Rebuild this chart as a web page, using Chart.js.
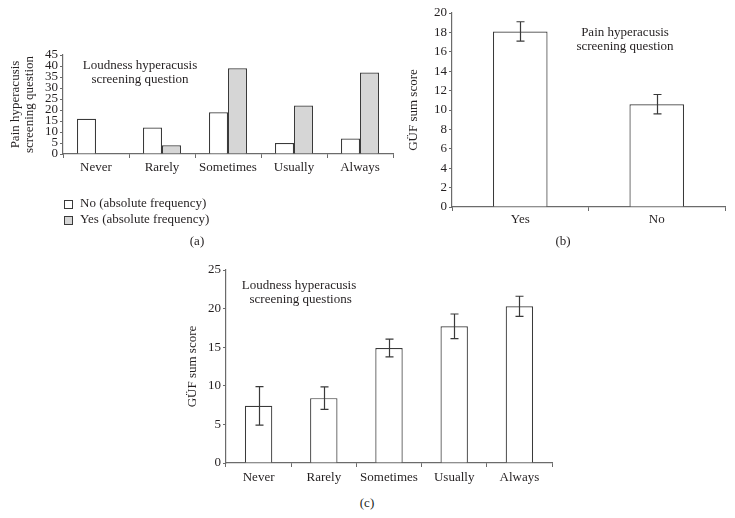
<!DOCTYPE html>
<html>
<head>
<meta charset="utf-8">
<script src="https://cdn.jsdelivr.net/npm/chart.js@4.4.0/dist/chart.umd.min.js"></script>
<style>
  body { margin:0; width:735px; height:518px; background:#fff; position:relative; overflow:hidden;
         font-family:'Liberation Serif', serif; color:#231f20; }
  canvas { position:absolute; }
  .note { position:absolute; font-size:13px; line-height:14px; text-align:center; white-space:nowrap; }
  .tag { position:absolute; font-size:13px; width:24px; text-align:center; }
</style>
</head>
<body>
<canvas id="chartA" width="400" height="200" style="left:0;top:40px"></canvas>
<canvas id="chartB" width="335" height="232" style="left:400px;top:0"></canvas>
<canvas id="chartC" width="385" height="235" style="left:180px;top:260px"></canvas>

<div class="note" style="left:60px;top:58px;width:160px">Loudness hyperacusis<br>screening question</div>
<div class="note" style="left:545px;top:25px;width:160px">Pain hyperacusis<br>screening question</div>
<div class="note" style="left:219px;top:278px;width:160px">Loudness hyperacusis<br>&nbsp;screening questions</div>

<div class="tag" style="left:185px;top:233px">(a)</div>
<div class="tag" style="left:551px;top:233px">(b)</div>
<div class="tag" style="left:355px;top:495px">(c)</div>

<script>
// (a) frecuencias absolutas
const freqLabels = ['Never', 'Rarely', 'Sometimes', 'Usually', 'Always'];
const freqNo = [16, 12, 19, 5, 7];
const freqYes = [0, 4, 39, 22, 37];
const freqTicks = [0, 5, 10, 15, 20, 25, 30, 35, 40, 45];

// (b) pain question
const painLabels = ['Yes', 'No'];
const painMeans = [18.1, 10.6];
const painErrors = [1.0, 1.0];

// (c) loudness questions
const loudLabels = ['Never', 'Rarely', 'Sometimes', 'Usually', 'Always'];
const loudMeans = [7.4, 8.4, 14.9, 17.7, 20.3];
const loudErrors = [2.5, 1.45, 1.15, 1.6, 1.3];

const FONT = "'Liberation Serif', serif";
const TXT = '#231f20';
const AXIS = '#6b6b6b';
const EDGE = '#3a3a3a';

Chart.defaults.font.family = FONT;
Chart.defaults.font.size = 13;
Chart.defaults.color = TXT;
Chart.defaults.animation = false;

// barras de error usando la escala y del grafico
const errorBars = {
    id: 'errorBars',
    afterDatasetsDraw(chart, args, opts) {
        const errs = opts.errors;
        if (!errs) return;
        const meta = chart.getDatasetMeta(0);
        const vals = chart.data.datasets[0].data;
        const y = chart.scales.y;
        const ctx = chart.ctx;
        ctx.save();
        ctx.strokeStyle = EDGE;
        ctx.lineWidth = 1.2;
        meta.data.forEach((bar, i) => {
            const top = y.getPixelForValue(vals[i] + errs[i]);
            const bot = y.getPixelForValue(vals[i] - errs[i]);
            const x = Math.round(bar.x) + 0.5;
            ctx.beginPath();
            ctx.moveTo(x, top); ctx.lineTo(x, bot);
            ctx.moveTo(x - opts.cap, top); ctx.lineTo(x + opts.cap, top);
            ctx.moveTo(x - opts.cap, bot); ctx.lineTo(x + opts.cap, bot);
            ctx.stroke();
        });
        ctx.restore();
    }
};

// leyenda vertical debajo del panel (a)
const boxLegend = {
    id: 'boxLegend',
    afterDraw(chart, args, opts) {
        if (!opts.show) return;
        const ctx = chart.ctx;
        ctx.save();
        ctx.font = '13px ' + FONT;
        ctx.textBaseline = 'middle';
        chart.data.datasets.forEach((ds, i) => {
            const y = opts.y + i * opts.gap;
            ctx.fillStyle = ds.backgroundColor;
            ctx.fillRect(opts.x, y - 4, 8, 8);
            ctx.strokeStyle = EDGE;
            ctx.lineWidth = 1;
            ctx.strokeRect(opts.x + 0.5, y - 3.5, 8, 8);
            ctx.fillStyle = TXT;
            ctx.fillText(ds.label, opts.x + 16, y);
        });
        ctx.restore();
    }
};

function axes(cfg) {
    return {
        x: {
            afterFit: s => { s.height = cfg.xh; },
            grid: { drawOnChartArea: false, tickLength: 4, tickColor: AXIS, lineWidth: 1 },
            border: { color: AXIS, width: 1.2 },
            ticks: { padding: cfg.xpad, color: TXT, autoSkip: false, maxRotation: 0 }
        },
        y: {
            min: cfg.min, max: cfg.max,
            afterFit: s => { s.width = cfg.yw; },
            afterBuildTicks: cfg.ticks ? s => { s.ticks = cfg.ticks.map(v => ({ value: v })); } : undefined,
            grid: { drawOnChartArea: false, tickLength: 3, tickColor: AXIS, lineWidth: 1 },
            border: { color: AXIS, width: 1.2 },
            ticks: { stepSize: cfg.step, padding: 2, color: TXT, autoSkip: false },
            title: { display: true, text: cfg.title, color: TXT,
                     font: { size: 13, lineHeight: 1.1 }, padding: { top: cfg.tpad, bottom: 0 } }
        }
    };
}

const baseOpts = {
    responsive: false,
    devicePixelRatio: 1,
    events: []
};

new Chart(document.getElementById('chartA'), {
    type: 'bar',
    data: {
        labels: freqLabels,
        datasets: [
            { label: 'No (absolute frequency)', data: freqNo, backgroundColor: '#ffffff',
              borderColor: EDGE, borderWidth: 1.2, categoryPercentage: 0.576, barPercentage: 1 },
            { label: 'Yes (absolute frequency)', data: freqYes, backgroundColor: '#d6d6d6',
              borderColor: EDGE, borderWidth: 1.2, categoryPercentage: 0.576, barPercentage: 1 }
        ]
    },
    options: {
        ...baseOpts,
        layout: { padding: { left: 0, top: 15, right: 7, bottom: 56 } },
        scales: axes({ min: 0, max: 45, step: 5, ticks: freqTicks, yw: 63, xh: 30, xpad: 2, tpad: 8,
                       title: ['Pain hyperacusis', 'screening question'] }),
        plugins: {
            legend: { display: false },
            tooltip: { enabled: false },
            boxLegend: { show: true, x: 64, y: 164, gap: 16 }
        }
    },
    plugins: [boxLegend]
});

new Chart(document.getElementById('chartB'), {
    type: 'bar',
    data: {
        labels: painLabels,
        datasets: [
            { label: 'GÜF sum score', data: painMeans, backgroundColor: '#ffffff',
              borderColor: EDGE, borderWidth: 1.2, categoryPercentage: 1, barPercentage: 0.4 }
        ]
    },
    options: {
        ...baseOpts,
        layout: { padding: { left: 0, top: 13, right: 10, bottom: 0 } },
        scales: axes({ min: 0, max: 20, step: 2, yw: 52, xh: 25, xpad: 1, tpad: 6,
                       title: 'GÜF sum score' }),
        plugins: {
            legend: { display: false },
            tooltip: { enabled: false },
            errorBars: { errors: painErrors, cap: 4 }
        }
    },
    plugins: [errorBars]
});

new Chart(document.getElementById('chartC'), {
    type: 'bar',
    data: {
        labels: loudLabels,
        datasets: [
            { label: 'GÜF sum score', data: loudMeans, backgroundColor: '#ffffff',
              borderColor: EDGE, borderWidth: 1.2, categoryPercentage: 1, barPercentage: 0.42 }
        ]
    },
    options: {
        ...baseOpts,
        layout: { padding: { left: 0, top: 10, right: 13, bottom: 0 } },
        scales: axes({ min: 0, max: 25, step: 5, yw: 46, xh: 32, xpad: 3, tpad: 5,
                       title: 'GÜF sum score' }),
        plugins: {
            legend: { display: false },
            tooltip: { enabled: false },
            errorBars: { errors: loudErrors, cap: 4 }
        }
    },
    plugins: [errorBars]
});
</script>
</body>
</html>
